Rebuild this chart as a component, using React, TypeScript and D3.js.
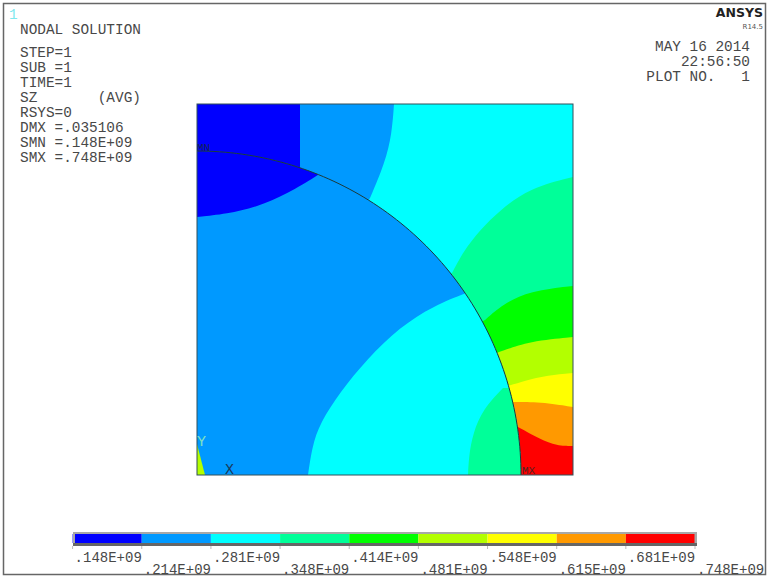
import React from "react";
import * as d3 from "d3";

type P = [number, number];

// Contour levels and colours
const levels = [".148E+09", ".214E+09", ".281E+09", ".348E+09", ".414E+09", ".481E+09", ".548E+09", ".615E+09", ".681E+09", ".748E+09"];
const bandColors = ["#0000ff", "#0099ff", "#00ffff", "#00ff99", "#00ff00", "#b3ff00", "#ffff00", "#ff9900", "#ff0000"];

// Plate model size and hole radius (model units)
const plateW = 376;
const plateH = 371;
const holeR = 324;

// Contours outside the hole: from the hole edge to the plate edge
const outerBlue: P[] = [[197, 371], [195, 342], [188, 312], [173, 277]];
const outerDeep: P[] = [[103, 371], [103, 300]];
const outerTeal: P[] = [[255, 202], [266, 223], [283, 245], [303, 265], [333, 287], [376, 298]];
const outerGreen: P[] = [[288, 155], [306, 171], [333, 184], [376, 189]];
const outerLime: P[] = [[302, 123], [333, 134], [376, 138]];
const outerYellow: P[] = [[311, 89], [343, 99], [376, 102]];
const outerOrange: P[] = [[316, 73], [343, 73], [376, 68]];
const outerRed: P[] = [[321, 48], [343, 36], [360, 29], [376, 29]];

// Contours inside the hole
const innerDeep: P[] = [[0, 258], [30, 261], [60, 268], [90, 281], [121, 300], [130, 306]];
const innerCyan: P[] = [[272, 183], [236, 169], [203, 148], [170, 116], [143, 83], [123, 52], [115, 28], [111, 0]];
const innerTeal: P[] = [[306, 87], [286, 66], [276, 42], [272, 20], [271, 0]];
const innerLime: P[] = [[0, 31], [8, 0], [0, 0]];

const headerLines = ["STEP=1", "SUB =1", "TIME=1", "SZ       (AVG)", "RSYS=0", "DMX =.035106", "SMN =.148E+09", "SMX =.748E+09"];
const dateLines = ["MAY 16 2014", "22:56:50", "PLOT NO.   1"];

const W = 771;
const H = 580;
const x = d3.scaleLinear().domain([0, plateW]).range([197, 573]);
const y = d3.scaleLinear().domain([0, plateH]).range([475, 104]);
const legend = d3.scaleBand<number>().domain(d3.range(bandColors.length)).range([72.6, 695]);

const curve = d3.line<P>().x((d) => x(d[0])).y((d) => y(d[1])).curve(d3.curveBasis);
const closed = (pts: P[], tail: P[]) => {
  const head = curve(pts) as string;
  return head + tail.map((p) => `L${x(p[0])},${y(p[1])}`).join("") + "Z";
};
const corner: P[] = [[plateW, 0], [0, 0]];

const arcPts: P[] = d3.range(0, 91, 1).map((a) => [holeR * Math.cos((a * Math.PI) / 180), holeR * Math.sin((a * Math.PI) / 180)] as P);
const arcLine = d3.line<P>().x((d) => x(d[0])).y((d) => y(d[1]));
const holeShape = (arcLine(arcPts) as string) + `L${x(0)},${y(0)}Z`;

const mono = "'Liberation Mono', monospace";
const ink = "#484848";

export default function App() {
  return (
    <svg width={W} height={H} viewBox={`0 0 ${W} ${H}`} style={{ position: "absolute", left: 0, top: 0, background: "#fff" }}>
      <defs>
        <clipPath id="hole"><path d={holeShape} /></clipPath>
      </defs>
      <rect x={3.5} y={3.5} width={762} height={571} fill="none" stroke="#666" strokeWidth={1.5} />

      {/* Plate outside the hole */}
      <rect x={x(0)} y={y(plateH)} width={x(plateW) - x(0)} height={y(0) - y(plateH)} fill={bandColors[2]} />
      <path d={closed(outerBlue, [[0, 0], [0, plateH]])} fill={bandColors[1]} />
      <path d={closed(outerDeep, [[0, 0], [0, plateH]])} fill={bandColors[0]} />
      <path d={closed(outerTeal, corner)} fill={bandColors[3]} />
      <path d={closed(outerGreen, corner)} fill={bandColors[4]} />
      <path d={closed(outerLime, corner)} fill={bandColors[5]} />
      <path d={closed(outerYellow, corner)} fill={bandColors[6]} />
      <path d={closed(outerOrange, corner)} fill={bandColors[7]} />
      <path d={closed(outerRed, corner)} fill={bandColors[8]} />

      {/* Hole region */}
      <path d={holeShape} fill={bandColors[1]} />
      <g clipPath="url(#hole)">
        <path d={closed(innerDeep, [[130, plateH], [0, plateH]])} fill={bandColors[0]} />
        <path d={closed(innerCyan, [[plateW, 0], [plateW, 183]])} fill={bandColors[2]} />
        <path d={closed(innerTeal, [[plateW, 0], [plateW, 87]])} fill={bandColors[3]} />
        <path d={`M${x(innerLime[0][0])},${y(innerLime[0][1])}L${x(innerLime[1][0])},${y(innerLime[1][1])}L${x(innerLime[2][0])},${y(innerLime[2][1])}Z`} fill={bandColors[5]} />
      </g>
      <path d={arcLine(arcPts) as string} fill="none" stroke="#1c3a3a" strokeWidth={1} />
      <rect x={x(0)} y={y(plateH)} width={x(plateW) - x(0)} height={y(0) - y(plateH)} fill="none" stroke="#33505a" strokeWidth={1} />

      {/* Model labels */}
      <g fontFamily={mono}>
        <text x={197} y={151} fill="#10205a" fontSize={11}>MN</text>
        <text x={522} y={474} fill="#5a2020" fontSize={11}>MX</text>
        <text x={225} y={474} fill="#1a3a5a" fontSize={15}>X</text>
        <text x={197} y={446} fill="#80e0c0" fontSize={15}>Y</text>
      </g>

      {/* Header */}
      <g fontFamily={mono} fontSize={14.4} fill={ink} style={{ whiteSpace: "pre" }}>
        <text x={9} y={19} fill="#7fe8ee">1</text>
        <text x={20} y={34}>NODAL SOLUTION</text>
        {headerLines.map((t, i) => (
          <text key={t} x={20} y={57 + i * 15} xmlSpace="preserve">{t}</text>
        ))}
        {dateLines.map((t, i) => (
          <text key={t} x={750} y={51 + i * 15} textAnchor="end" xmlSpace="preserve">{t}</text>
        ))}
      </g>
      <text x={763} y={17} textAnchor="end" fontFamily="'DejaVu Sans', sans-serif" fontWeight="bold" fontSize={12.5} fill="#222">ANSYS</text>
      <text x={763} y={29} textAnchor="end" fontFamily="'DejaVu Sans', sans-serif" fontSize={7} fill="#555">R14.5</text>

      {/* Legend */}
      {bandColors.map((c, i) => (
        <rect key={c} x={legend(i)} y={534} width={legend.bandwidth()} height={9} fill={c} />
      ))}
      <rect x={73} y={532} width={624} height={2} fill="#a8a8a8" />
      <rect x={73} y={532} width={2} height={14} fill="#a8a8a8" />
      <rect x={694.5} y={532} width={2.5} height={14} fill="#a8a8a8" />
      <rect x={73} y={543} width={624} height={3} fill="#666" />
      <g fontFamily={mono} fontSize={14} fill={ink}>
        {levels.map((t, i) => {
          const left = i < bandColors.length ? (legend(i) as number) : 695;
          return (
            <g key={t}>
              <line x1={left} x2={left} y1={546} y2={549} stroke="#bbb" />
              <text x={left + 2} y={i % 2 === 0 ? 562 : 574}>{t}</text>
            </g>
          );
        })}
      </g>
    </svg>
  );
}
